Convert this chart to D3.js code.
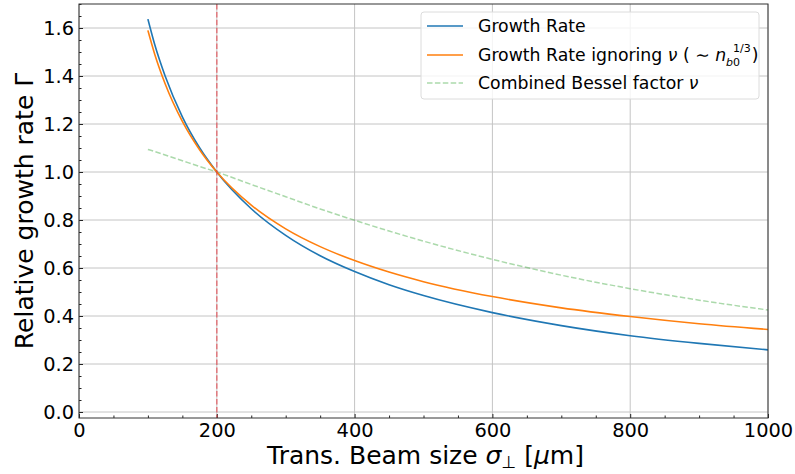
<!DOCTYPE html>
<html>
<head>
<meta charset="utf-8">
<script src="https://cdn.jsdelivr.net/npm/d3@7"></script>
<style>
  html, body { margin: 0; padding: 0; background: #fff; }
  svg { display: block; font-family: "DejaVu Sans", sans-serif; }
</style>
</head>
<body>
<svg id="chart" width="795" height="474"></svg>
<script>
// Transverse beam size samples [µm]
const sigma = [100, 110, 125, 150, 175, 200, 250, 300, 350, 400, 450, 500, 600, 700, 800, 900, 1000];
// Relative growth rate Γ (full model)
const growthRate = [1.637, 1.53, 1.40, 1.23, 1.101, 1.0, 0.847, 0.736, 0.651, 0.585, 0.530, 0.485, 0.414, 0.360, 0.318, 0.286, 0.259];
// Growth rate without the Bessel factor (~ n_b0^(1/3))
const growthNoNu = [1.590, 1.490, 1.368, 1.211, 1.093, 1.0, 0.862, 0.763, 0.689, 0.631, 0.583, 0.543, 0.481, 0.434, 0.398, 0.368, 0.344];
// Combined Bessel factor ν
const besselNu = [1.094, 1.085, 1.071, 1.047, 1.023, 1.0, 0.948, 0.897, 0.846, 0.799, 0.754, 0.712, 0.636, 0.570, 0.514, 0.466, 0.425];
// Reference beam size
const refSigma = [200];

const xTicks = [0, 200, 400, 600, 800, 1000];
const yTicks = [0.0, 0.2, 0.4, 0.6, 0.8, 1.0, 1.2, 1.4, 1.6];
const xMinor = d3.range(0, 1001, 50);
const yMinor = d3.range(0, 1.701, 0.05);

const svg = d3.select("#chart");
const L = 79, R = 768, T = 4, B = 418;

const x = d3.scaleLinear().domain([0, 1000]).range([L, R]);
const y = d3.scaleLinear().domain([-0.025, 1.7]).range([B, T]);

// grid
const grid = svg.append("g").attr("stroke", "#c4c4c4").attr("stroke-width", 1);
grid.selectAll(".gx").data(xTicks).join("line")
  .attr("x1", d => x(d)).attr("x2", d => x(d)).attr("y1", T).attr("y2", B);
grid.selectAll(".gy").data(yTicks).join("line")
  .attr("x1", L).attr("x2", R).attr("y1", d => y(d)).attr("y2", d => y(d));

// axes with inward ticks
const gx = svg.append("g").attr("transform", `translate(0,${B})`)
  .call(d3.axisBottom(x).tickValues(xTicks).tickFormat(d3.format("d")).tickSizeInner(-4).tickSizeOuter(0).tickPadding(5));
const gxm = svg.append("g").attr("transform", `translate(0,${B})`)
  .call(d3.axisBottom(x).tickValues(xMinor.filter(v => !xTicks.includes(v))).tickFormat("").tickSizeInner(-2.5).tickSizeOuter(0));
const gy = svg.append("g").attr("transform", `translate(${L},0)`)
  .call(d3.axisLeft(y).tickValues(yTicks).tickFormat(d3.format(".1f")).tickSizeInner(-4).tickSizeOuter(0).tickPadding(5));
const gym = svg.append("g").attr("transform", `translate(${L},0)`)
  .call(d3.axisLeft(y).tickValues(yMinor.filter(v => Math.abs(Math.round(v * 5) - v * 5) > 1e-6)).tickFormat("").tickSizeInner(-2.5).tickSizeOuter(0));
[gx, gxm, gy, gym].forEach(g => {
  g.select(".domain").remove();
  g.selectAll(".tick line").attr("stroke", "#222");
  g.selectAll(".tick text").attr("font-size", 19.4).attr("fill", "#000").attr("font-family", "DejaVu Sans");
});

// curves
svg.append("clipPath").attr("id", "clip").append("rect")
  .attr("x", L).attr("y", T).attr("width", R - L).attr("height", B - T);
const plot = svg.append("g").attr("clip-path", "url(#clip)");
const line = vals => d3.line().x((d, i) => x(sigma[i])).y(d => y(d)).curve(d3.curveMonotoneX)(vals);

plot.append("path").attr("d", line(besselNu)).attr("fill", "none")
  .attr("stroke", "#2ca02c").attr("stroke-opacity", 0.4).attr("stroke-width", 1.5).attr("stroke-dasharray", "5.5,2.4");
plot.append("path").attr("d", line(growthRate)).attr("fill", "none")
  .attr("stroke", "#1f77b4").attr("stroke-width", 1.6);
plot.append("path").attr("d", line(growthNoNu)).attr("fill", "none")
  .attr("stroke", "#ff7f0e").attr("stroke-width", 1.6);

plot.selectAll(".ref").data(refSigma).join("line")
  .attr("x1", d => x(d)).attr("x2", d => x(d)).attr("y1", T).attr("y2", B)
  .attr("stroke", "#e8333a").attr("stroke-opacity", 0.55).attr("stroke-width", 1.6).attr("stroke-dasharray", "5.5,2.4");

// frame
svg.append("rect").attr("x", L).attr("y", T).attr("width", R - L).attr("height", B - T)
  .attr("fill", "none").attr("stroke", "#333").attr("stroke-width", 1);

// legend
const lg = svg.append("g");
lg.append("rect").attr("x", 421).attr("y", 12).attr("width", 338).attr("height", 87).attr("rx", 3)
  .attr("fill", "#fff").attr("fill-opacity", 0.8).attr("stroke", "#dcdcdc").attr("stroke-width", 1);
const items = [
  { color: "#1f77b4", op: 1, dash: null, y: 26 },
  { color: "#ff7f0e", op: 1, dash: null, y: 55 },
  { color: "#2ca02c", op: 0.4, dash: "5.5,2.4", y: 83 }
];
items.forEach(it => {
  lg.append("line").attr("x1", 427).attr("x2", 463).attr("y1", it.y).attr("y2", it.y)
    .attr("stroke", it.color).attr("stroke-opacity", it.op).attr("stroke-width", 1.6)
    .attr("stroke-dasharray", it.dash);
});
const fs = 17.3, fsS = 11;
lg.append("text").attr("x", 478).attr("y", 26 + 6).attr("font-size", fs).text("Growth Rate");

const base2 = 55 + 6;
const t2 = lg.append("text").attr("x", 478).attr("y", base2).attr("font-size", fs);
t2.append("tspan").text("Growth Rate ignoring ");
t2.append("tspan").attr("font-style", "italic").text("ν");
t2.append("tspan").text(" ( ∼ ");
t2.append("tspan").attr("font-style", "italic").text("n");
const nEnd = 478 + t2.node().getComputedTextLength();
// subscript b0 and superscript 1/3 stacked after n
const sub = lg.append("text").attr("x", nEnd).attr("y", base2 + 5).attr("font-size", fsS);
sub.append("tspan").attr("font-style", "italic").text("b");
sub.append("tspan").text("0");
const sup = lg.append("text").attr("x", nEnd + 7).attr("y", base2 - 9).attr("font-size", fsS).text("1/3");
const closeX = Math.max(nEnd + sub.node().getComputedTextLength(), nEnd + 7 + sup.node().getComputedTextLength()) + 1;
lg.append("text").attr("x", closeX).attr("y", base2).attr("font-size", fs).text(")");

const t3 = lg.append("text").attr("x", 478).attr("y", 83 + 6).attr("font-size", fs);
t3.append("tspan").text("Combined Bessel factor ");
t3.append("tspan").attr("font-style", "italic").text("ν");

// axis labels
const xl = svg.append("text").attr("x", (L + R) / 2 + 2).attr("y", 464).attr("text-anchor", "middle").attr("font-size", 25);
xl.append("tspan").text("Trans. Beam size ");
xl.append("tspan").attr("font-style", "italic").text("σ");
xl.append("tspan").attr("font-size", 17).attr("dy", 4).text("⊥");
xl.append("tspan").attr("dy", -4).text("  [");
xl.append("tspan").attr("font-style", "italic").text("μ");
xl.append("tspan").text("m]");

svg.append("text").attr("transform", `translate(33,${(T + B) / 2}) rotate(-90)`)
  .attr("text-anchor", "middle").attr("font-size", 25).text("Relative growth rate Γ");
</script>
</body>
</html>
